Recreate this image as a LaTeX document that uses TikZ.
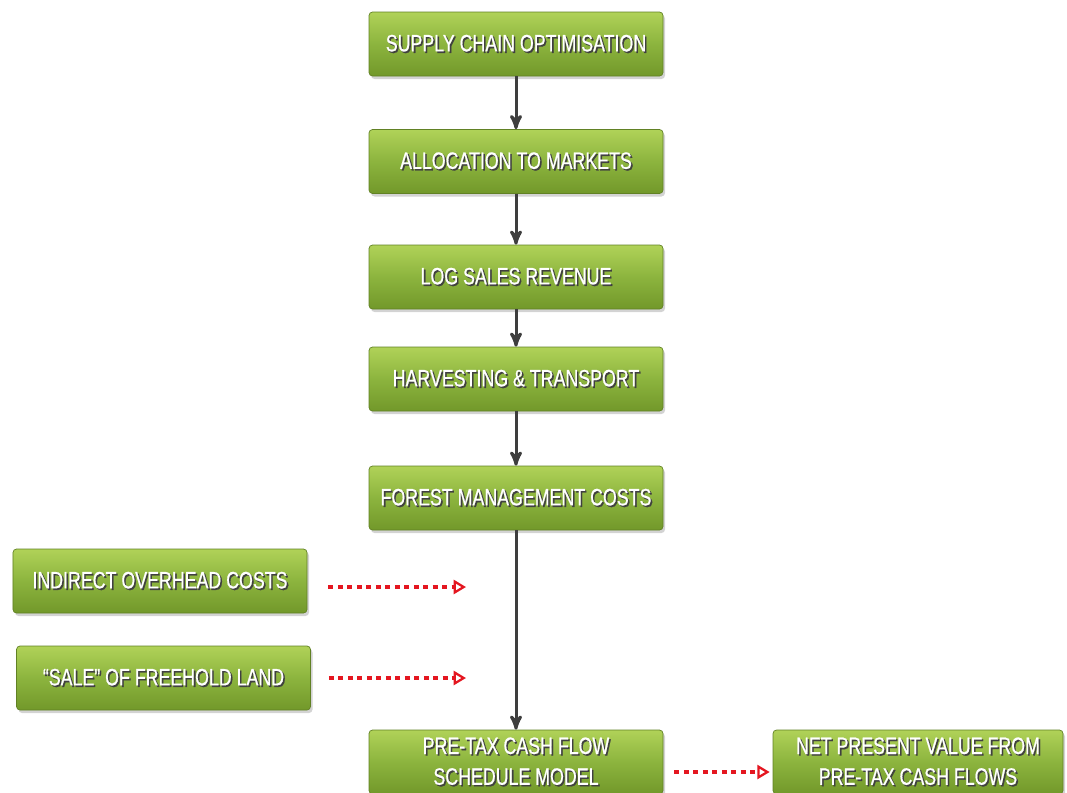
\documentclass[tikz,border=0pt]{standalone}
\usepackage{fontspec}
\setmainfont{Liberation Sans}[FakeStretch=0.75, FakeBold=0.6]
\usetikzlibrary{
    arrows,
    arrows.meta,
    shadows
}
\definecolor{boxtop}{RGB}{176,210,88}
\definecolor{boxmid}{RGB}{140,180,62}
\definecolor{boxbot}{RGB}{114,152,42}
\definecolor{flowgray}{RGB}{62,62,62}
\definecolor{dotred}{RGB}{228,22,32}
\newcommand{\shd}[1]{\makebox[0pt][l]{\hspace{0.9pt}\raisebox{-0.9pt}{\textcolor{black!75}{#1}}}#1}

\begin{document}
\begin{tikzpicture}[>=stealth',semithick]
    \tikzstyle{stage}=[shape=rectangle, rounded corners=2pt, minimum width=5.88cm, minimum height=1.28cm, inner sep=0pt,
        top color=boxtop, bottom color=boxbot, middle color=boxmid, draw=boxbot!85!black, line width=0.4pt,
        drop shadow={shadow xshift=0.04cm, shadow yshift=-0.06cm, opacity=0.35},
        text=white, align=center, font=\fontsize{13.5}{17.5}\selectfont]
    \tikzstyle{flow}=[->, draw=flowgray, line width=1.7pt]
    \tikzstyle{feed}=[-{Triangle[open, length=7pt, width=8pt, line width=1.3pt]}, draw=dotred, line width=2pt, dash pattern=on 2.8pt off 2.6pt]
    \useasboundingbox (0, 0) rectangle (21.34, -15.84);

	\node[stage] (supply) at (10.32, -0.88) {\shd{SUPPLY CHAIN OPTIMISATION}};
	\node[stage] (alloc) at (10.32, -3.23) {\shd{ALLOCATION TO MARKETS}};
	\node[stage] (logsales) at (10.32, -5.54) {\shd{LOG SALES REVENUE}};
	\node[stage] (harvest) at (10.32, -7.58) {\shd{HARVESTING \& TRANSPORT}};
	\node[stage] (forest) at (10.32, -9.96) {\shd{FOREST MANAGEMENT COSTS}};

	\node[stage] (overhead) at (3.2, -11.62) {\shd{INDIRECT OVERHEAD COSTS}};
	\node[stage] (land) at (3.27, -13.56) {\shd{“SALE” OF FREEHOLD LAND}};

	\node[stage] (pretax) at (10.32, -15.24) {\shd{PRE-TAX CASH FLOW}\\ \shd{SCHEDULE MODEL}};
	\node[stage, minimum width=5.8cm] (npv) at (18.36, -15.24) {\shd{NET PRESENT VALUE FROM}\\ \shd{PRE-TAX CASH FLOWS}};

	\coordinate (overheadend) at (9.32, -11.74);
	\coordinate (landend) at (9.32, -13.56);

	\draw [flow] (supply) -- (alloc);
	\draw [flow] (alloc) -- (logsales);
	\draw [flow] (logsales) -- (harvest);
	\draw [flow] (harvest) -- (forest);
	\draw [flow] (forest) -- (pretax);

	\draw [feed, shorten <=0.42cm] (overhead.east |- overheadend) -- (overheadend);
	\draw [feed, shorten <=0.36cm] (land.east |- landend) -- (landend);
	\draw [feed, shorten <=0.22cm, shorten >=0.06cm] ([yshift=-0.2cm]pretax.east) -- ([yshift=-0.2cm]npv.west);
\end{tikzpicture}
\end{document}
